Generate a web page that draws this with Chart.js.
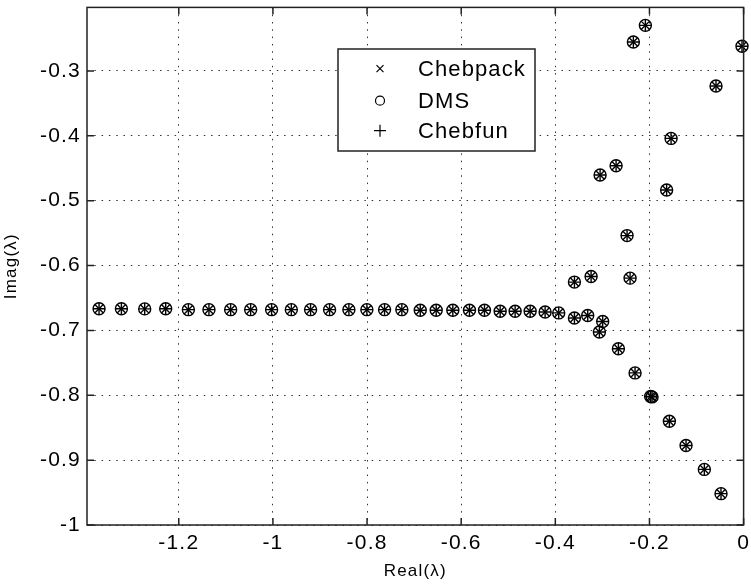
<!DOCTYPE html>
<html><head><meta charset="utf-8">
<script src="https://cdn.jsdelivr.net/npm/chart.js@4/dist/chart.umd.min.js"></script>
<style>html,body{margin:0;padding:0;background:#fff}#wrap{width:751px;height:587px}</style>
</head><body><div id="wrap"><canvas id="c" width="751" height="587"></canvas></div>
<script>
// Eigenvalues (all three methods overlap)
const eigRe = [-1.3694,-1.3219,-1.2724,-1.2278,-1.1796,-1.1359,-1.0898,-1.0473,-1.0028,-0.9609,
  -0.9200,-0.8796,-0.8386,-0.8004,-0.7628,-0.7261,-0.6870,-0.6531,-0.6178,-0.5824,
  -0.5505,-0.5172,-0.4854,-0.4535,-0.4217,-0.3928,
  -0.3594,-0.3312,-0.2994,-0.3064,-0.2660,-0.2306,-0.1975,-0.1945,-0.1577,-0.1223,-0.0834,-0.0480,
  -0.3594,-0.3240,-0.2412,-0.2476,-0.3049,-0.2709,-0.1635,-0.1541,-0.0586,-0.0034,-0.2342,-0.2087];
const eigIm = [-0.6666,-0.6666,-0.6668,-0.6666,-0.668,-0.668,-0.668,-0.668,-0.668,-0.668,
  -0.668,-0.668,-0.668,-0.668,-0.668,-0.668,-0.669,-0.669,-0.669,-0.669,
  -0.669,-0.6705,-0.6705,-0.6705,-0.6717,-0.673,
  -0.6809,-0.6769,-0.6862,-0.7025,-0.7282,-0.7655,-0.8020,-0.8025,-0.8400,-0.8774,-0.9143,-0.9517,
  -0.6255,-0.6169,-0.6194,-0.5538,-0.4605,-0.4462,-0.4835,-0.4040,-0.3231,-0.2620,-0.2554,-0.2297];
const seriesNames = ['Chebpack','DMS','Chebfun'];
const seriesStyles = ['crossRot','circle','cross'];
const xTickValues = [-1.2,-1,-0.8,-0.6,-0.4,-0.2,0];
const yTickValues = [-1,-0.9,-0.8,-0.7,-0.6,-0.5,-0.4,-0.3];
const xMin = -1.395, xMax = 0, yMin = -1, yMax = -0.202;

const pts = eigRe.map((x,i)=>({x:x, y:eigIm[i]}));
const FONT = "'Liberation Sans', Arial, sans-serif";
const fmt = v => String(Math.round(v*10)/10);

const spacingPlugin = {
  id:'spacing',
  beforeDraw(chart){ chart.ctx.letterSpacing = '1.2px'; }
};

const boxPlugin = {
  id:'box',
  afterDraw(chart){
    const {ctx, chartArea:a, scales:{x, y}} = chart;
    ctx.save();
    ctx.strokeStyle = '#222'; ctx.lineWidth = 1.5;
    ctx.strokeRect(a.left, a.top, a.right-a.left, a.bottom-a.top);
    const L = 7;
    ctx.beginPath();
    xTickValues.forEach(v=>{ const px = x.getPixelForValue(v);
      ctx.moveTo(px, a.bottom); ctx.lineTo(px, a.bottom-L);
      ctx.moveTo(px, a.top); ctx.lineTo(px, a.top+L); });
    yTickValues.forEach(v=>{ const py = y.getPixelForValue(v);
      ctx.moveTo(a.left, py); ctx.lineTo(a.left+L, py);
      ctx.moveTo(a.right, py); ctx.lineTo(a.right-L, py); });
    ctx.stroke();
    // legend
    const bx=338, by=49, bw=197, bh=102;
    ctx.fillStyle='#fff'; ctx.fillRect(bx,by,bw,bh);
    ctx.lineWidth=1.5; ctx.strokeStyle='#222'; ctx.strokeRect(bx,by,bw,bh);
    const rows=[68.7,100.7,130.7];
    ctx.fillStyle='#000'; ctx.font = '22px '+FONT; ctx.textBaseline='middle'; ctx.textAlign='left';
    ctx.letterSpacing = '1.1px';
    ctx.lineWidth=1.2; ctx.strokeStyle='#000';
    seriesNames.forEach((n,i)=>{
      const cx=380, cy=rows[i];
      ctx.beginPath();
      if(seriesStyles[i]==='crossRot'){ const r=3.5; ctx.moveTo(cx-r,cy-r);ctx.lineTo(cx+r,cy+r);ctx.moveTo(cx+r,cy-r);ctx.lineTo(cx-r,cy+r);}
      else if(seriesStyles[i]==='circle'){ ctx.arc(cx,cy,4.5,0,Math.PI*2);}
      else { const r=6; ctx.moveTo(cx-r,cy);ctx.lineTo(cx+r,cy);ctx.moveTo(cx,cy-r);ctx.lineTo(cx,cy+r);}
      ctx.stroke();
      ctx.fillText(n, 418, cy+1);
    });
    ctx.restore();
  }
};

new Chart(document.getElementById('c'), {
  type:'scatter',
  data:{ datasets: seriesNames.map((n,i)=>({
    label:n, data:pts, pointStyle:seriesStyles[i],
    pointRadius: 6, pointBorderWidth:1.4, borderColor:'#000', backgroundColor:'rgba(0,0,0,0)',
    showLine:false, clip:false
  }))},
  options:{
    responsive:false, animation:false, devicePixelRatio:1,
    layout:{padding:{left:0,right:7,top:7,bottom:0}},
    plugins:{legend:{display:false}, tooltip:{enabled:false}},
    scales:{
      x:{ type:'linear', min:xMin, max:xMax,
        afterBuildTicks: ax=>{ ax.ticks = xTickValues.map(v=>({value:v})); },
        afterFit: ax=>{ ax.height = 62; ax.paddingLeft = 0; ax.paddingRight = 0; },
        grid:{ color:'#333', lineWidth:1, drawTicks:false },
        border:{ display:false, dash:[1.5,5.8] },
        ticks:{ color:'#000', font:{family:FONT, size:21}, padding:6, maxRotation:0, autoSkip:false, callback: v=>fmt(v) },
        title:{ display:true, text:'Real(λ)', color:'#000', font:{family:FONT, size:17}, padding:{top:0,bottom:5} }
      },
      y:{ type:'linear', min:yMin, max:yMax,
        afterBuildTicks: ax=>{ ax.ticks = yTickValues.map(v=>({value:v})); },
        afterFit: ax=>{ ax.width = 87; ax.paddingTop = 0; ax.paddingBottom = 0; },
        grid:{ color:'#333', lineWidth:1, drawTicks:false },
        border:{ display:false, dash:[1.5,5.8] },
        ticks:{ color:'#000', font:{family:FONT, size:21}, padding:6, autoSkip:false, callback: v=>fmt(v) },
        title:{ display:true, text:'Imag(λ)', color:'#000', font:{family:FONT, size:17}, padding:{top:1,bottom:0} }
      }
    }
  },
  plugins:[spacingPlugin, boxPlugin]
});
</script></body></html>
